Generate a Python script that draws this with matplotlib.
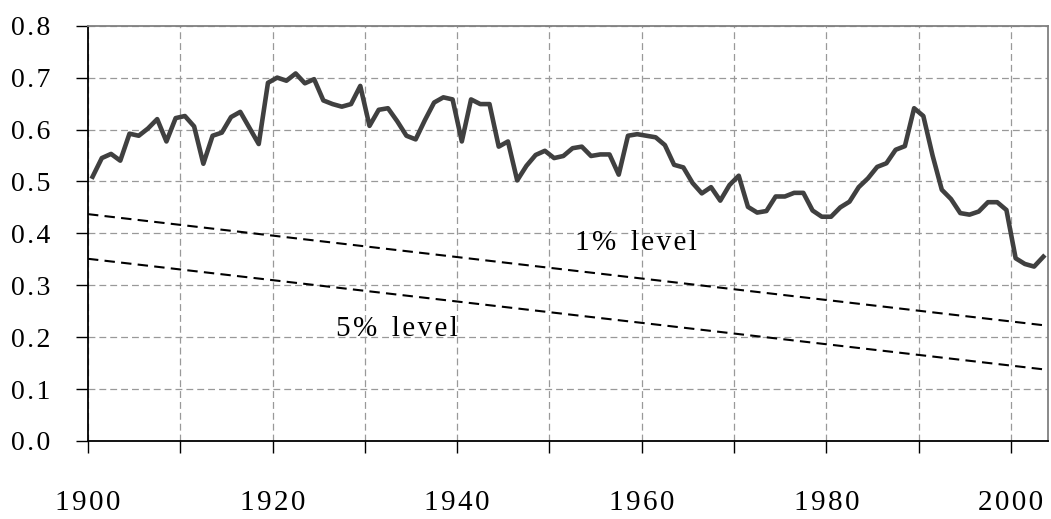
"""Korrelation ueber die Zeit mit 1%- und 5%-Signifikanzgrenzen."""

import matplotlib
matplotlib.use("Agg")
import matplotlib.pyplot as plt
import numpy as np

plt.rcParams["font.family"] = ["Liberation Serif", "DejaVu Serif"]

# Jahreswerte 1900..2003 (Kategorie-Achse, Punkt in der Mitte des Jahres)
years = np.arange(1900, 2004)
values = [
    0.509, 0.545, 0.553, 0.540, 0.592, 0.588, 0.602, 0.620, 0.577, 0.622,
    0.626, 0.606, 0.534, 0.588, 0.594, 0.624, 0.634, 0.603, 0.572, 0.690,
    0.700, 0.694, 0.708, 0.689, 0.697, 0.656, 0.649, 0.644, 0.649, 0.684,
    0.607, 0.638, 0.641, 0.616, 0.588, 0.581, 0.618, 0.652, 0.662, 0.658,
    0.577, 0.658, 0.649, 0.649, 0.567, 0.577, 0.502, 0.530, 0.551, 0.559,
    0.545, 0.549, 0.564, 0.567, 0.549, 0.552, 0.552, 0.513, 0.588, 0.591,
    0.588, 0.585, 0.570, 0.532, 0.527, 0.497, 0.477, 0.489, 0.463, 0.493,
    0.511, 0.451, 0.440, 0.443, 0.471, 0.471, 0.478, 0.478, 0.444, 0.432,
    0.432, 0.450, 0.461, 0.489, 0.506, 0.528, 0.535, 0.561, 0.568, 0.641,
    0.626, 0.550, 0.484, 0.466, 0.439, 0.436, 0.442, 0.460, 0.460, 0.445,
    0.352, 0.341, 0.336, 0.355,
]

# Signifikanzgrenzen (Start- und Endwert)
level_x = [1900, 2004]
level_1pct = [0.437, 0.222]
level_5pct = [0.351, 0.137]

x_ticks = np.arange(1900, 2010, 10)
x_labels = ["1900", "", "1920", "", "1940", "", "1960", "", "1980", "", "2000"]
y_ticks = np.arange(0, 0.81, 0.1)

HAIR = "\u200a"


def spaced(s):
    # gesperrte Schrift wie im Original
    return HAIR.join(s)


fig = plt.figure(figsize=(10.51, 5.19), dpi=100)
ax = fig.add_axes([0.0837, 0.1503, 0.9134, 0.8002])

ax.plot(years + 0.5, values, color="#404040", linewidth=3.3, zorder=4)
ax.plot(level_x, level_1pct, color="black", linewidth=1.5, linestyle=(0, (5, 3)), zorder=3)
ax.plot(level_x, level_5pct, color="black", linewidth=1.5, linestyle=(0, (5, 3)), zorder=3)

ax.text(1959.4, 0.381, spaced("1%") + "  " + spaced("level"), fontsize=21,
        ha="center", va="center")
ax.text(1933.5, 0.216, spaced("5%") + "  " + spaced("level"), fontsize=21,
        ha="center", va="center")

ax.set_xlim(1900, 2004)
ax.set_ylim(0, 0.8)
ax.set_xticks(x_ticks)
ax.set_xticklabels([spaced(l) for l in x_labels], fontsize=21)
ax.set_yticks(y_ticks)
ax.set_yticklabels([spaced(f"{v:.1f}") for v in y_ticks], fontsize=20)

ax.tick_params(axis="x", direction="out", length=8.6, width=1.0, pad=26.5)
ax.tick_params(axis="y", direction="out", length=8.6, width=1.0, pad=18.5)

ax.grid(True, color="#999999", linestyle=(0, (5.5, 3.2)), linewidth=0.9)
ax.set_axisbelow(True)

for side in ("left", "bottom"):
    ax.spines[side].set_color("black")
    ax.spines[side].set_linewidth(1.3)
for side in ("top", "right"):
    ax.spines[side].set_color("#808080")
    ax.spines[side].set_linewidth(1.3)

fig.savefig("out.png", dpi=100)
plt.close(fig)
